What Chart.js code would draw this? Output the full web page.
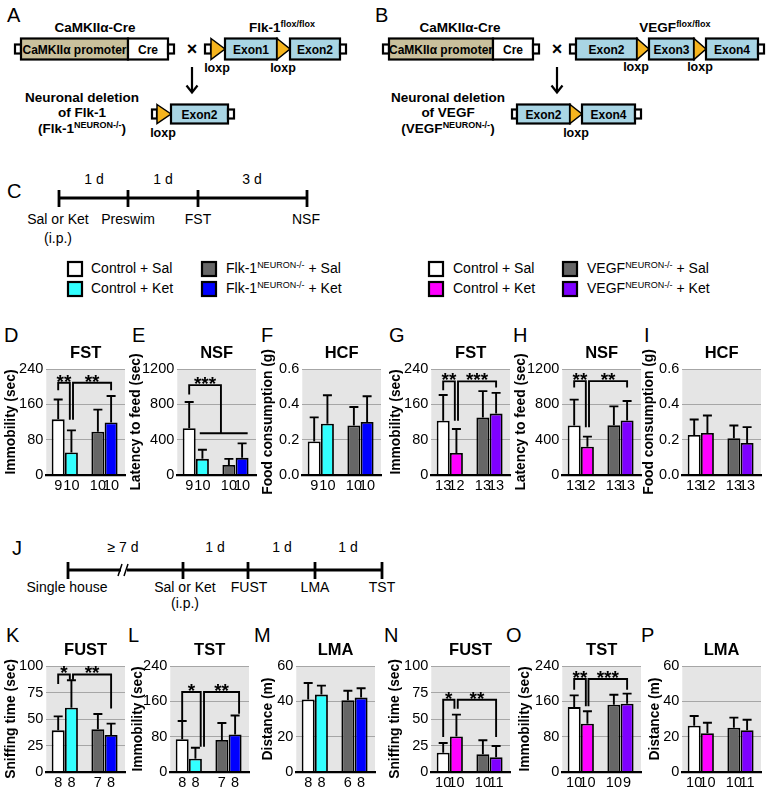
<!DOCTYPE html>
<html><head><meta charset="utf-8">
<script src="https://cdn.jsdelivr.net/npm/chart.js@4.4.1/dist/chart.umd.min.js"></script>
<style>
html,body{margin:0;padding:0;background:#fff;width:769px;height:792px;overflow:hidden;position:relative}
canvas{position:absolute}
svg{position:absolute;left:0;top:0}
svg text{font-family:"Liberation Sans",Arial,Helvetica,sans-serif;fill:#000}
.lt{font-size:20px}
.h{font-size:13.5px;font-weight:bold}
.bx{font-size:12px;font-weight:bold}
.lx{font-size:12.5px;font-weight:bold}
.t{font-size:14px}
.k{stroke:#000;stroke-width:2.2}
.tri{fill:#f5b41e;stroke:#000;stroke-width:1.5;stroke-linejoin:miter}
</style></head><body>
<svg width="769" height="792" xmlns="http://www.w3.org/2000/svg">
<!-- Panel A -->
<text x="7" y="21.5" class="lt">A</text>
<text x="95" y="32" class="h" text-anchor="middle">CaMKIIα-Cre</text>
<rect x="15" y="44.5" width="6" height="9" fill="#fff" class="k"/>
<rect x="21" y="38.5" width="107" height="21" fill="#c9c09c" class="k"/>
<text x="74.5" y="53.5" class="bx" text-anchor="middle">CaMKIIα promoter</text>
<rect x="128" y="38.5" width="40" height="21" fill="#fff" class="k"/>
<text x="148" y="53.5" class="bx" text-anchor="middle">Cre</text>
<rect x="168" y="44.5" width="6" height="9" fill="#fff" class="k"/>
<text x="192" y="55" class="h" text-anchor="middle" style="font-size:18px">×</text>
<text x="282" y="32" class="h" text-anchor="middle">Flk-1<tspan style="font-size:9px" dy="-5">flox/flox</tspan></text>
<rect x="205" y="44.5" width="6" height="9" fill="#fff" class="k"/>
<polygon points="211,38.5 225,49 211,59.5" class="tri"/>
<rect x="225" y="38.5" width="52" height="21" fill="#a9d5e4" class="k"/>
<text x="251" y="53.5" class="bx" text-anchor="middle">Exon1</text>
<polygon points="277,38.5 290,49 277,59.5" class="tri"/>
<rect x="290" y="38.5" width="50" height="21" fill="#a9d5e4" class="k"/>
<text x="315" y="53.5" class="bx" text-anchor="middle">Exon2</text>
<rect x="340" y="44.5" width="6" height="9" fill="#fff" class="k"/>
<text x="217" y="72" class="lx" text-anchor="middle">loxp</text>
<text x="283" y="72" class="lx" text-anchor="middle">loxp</text>
<line x1="192" y1="67" x2="192" y2="92" class="k"/>
<path d="M186.5,85.5 L192,92.5 L197.5,85.5" fill="none" class="k"/>
<text x="82" y="101.5" class="h" text-anchor="middle">Neuronal deletion</text>
<text x="82" y="117" class="h" text-anchor="middle">of Flk-1</text>
<text x="82" y="133" class="h" text-anchor="middle">(Flk-1<tspan style="font-size:9px" dy="-5">NEURON-/-</tspan><tspan dy="5">)</tspan></text>
<rect x="152" y="109.5" width="5" height="9" fill="#fff" class="k"/>
<polygon points="157,104.5 171,114 157,123.5" class="tri"/>
<rect x="171" y="104.5" width="57" height="19" fill="#a9d5e4" class="k"/>
<text x="199.5" y="118.5" class="bx" text-anchor="middle">Exon2</text>
<rect x="228" y="109.5" width="6" height="9" fill="#fff" class="k"/>
<text x="163" y="137" class="lx" text-anchor="middle">loxp</text>

<!-- Panel B -->
<text x="375" y="21.5" class="lt">B</text>
<text x="460" y="32" class="h" text-anchor="middle">CaMKIIα-Cre</text>
<rect x="383" y="44.5" width="6" height="9" fill="#fff" class="k"/>
<rect x="389" y="38.5" width="104" height="21" fill="#c9c09c" class="k"/>
<text x="441" y="53.5" class="bx" text-anchor="middle">CaMKIIα promoter</text>
<rect x="493" y="38.5" width="40" height="21" fill="#fff" class="k"/>
<text x="513" y="53.5" class="bx" text-anchor="middle">Cre</text>
<rect x="533" y="44.5" width="6" height="9" fill="#fff" class="k"/>
<text x="557" y="55" class="h" text-anchor="middle" style="font-size:18px">×</text>
<text x="675" y="32" class="h" text-anchor="middle">VEGF<tspan style="font-size:9px" dy="-5">flox/flox</tspan></text>
<rect x="570" y="44.5" width="6" height="9" fill="#fff" class="k"/>
<rect x="576" y="38.5" width="61" height="21" fill="#a9d5e4" class="k"/>
<text x="606.5" y="53.5" class="bx" text-anchor="middle">Exon2</text>
<polygon points="637,38.5 649,49 637,59.5" class="tri"/>
<rect x="649" y="38.5" width="45" height="21" fill="#a9d5e4" class="k"/>
<text x="671.5" y="53.5" class="bx" text-anchor="middle">Exon3</text>
<polygon points="694,38.5 706,49 694,59.5" class="tri"/>
<rect x="706" y="38.5" width="52" height="21" fill="#a9d5e4" class="k"/>
<text x="732" y="53.5" class="bx" text-anchor="middle">Exon4</text>
<rect x="758" y="44.5" width="6" height="9" fill="#fff" class="k"/>
<text x="636" y="71" class="lx" text-anchor="middle">loxp</text>
<text x="700" y="71" class="lx" text-anchor="middle">loxp</text>
<line x1="557" y1="67" x2="557" y2="92" class="k"/>
<path d="M551.5,85.5 L557,92.5 L562.5,85.5" fill="none" class="k"/>
<text x="448" y="101.5" class="h" text-anchor="middle">Neuronal deletion</text>
<text x="448" y="117" class="h" text-anchor="middle">of VEGF</text>
<text x="448" y="133" class="h" text-anchor="middle">(VEGF<tspan style="font-size:9px" dy="-5">NEURON-/-</tspan><tspan dy="5">)</tspan></text>
<rect x="512" y="109.5" width="5" height="9" fill="#fff" class="k"/>
<rect x="517" y="104.5" width="53" height="19" fill="#a9d5e4" class="k"/>
<text x="543.5" y="118.5" class="bx" text-anchor="middle">Exon2</text>
<polygon points="570,104.5 582,114 570,123.5" class="tri"/>
<rect x="582" y="104.5" width="53" height="19" fill="#a9d5e4" class="k"/>
<text x="608.5" y="118.5" class="bx" text-anchor="middle">Exon4</text>
<rect x="635" y="109.5" width="6" height="9" fill="#fff" class="k"/>
<text x="576" y="137" class="lx" text-anchor="middle">loxp</text>

<!-- Panel C timeline -->
<text x="7" y="198" class="lt">C</text>
<line x1="59" y1="198" x2="307" y2="198" stroke="#000" stroke-width="2.8"/>
<line x1="59" y1="190" x2="59" y2="207" stroke="#000" stroke-width="2.8"/>
<line x1="128" y1="190" x2="128" y2="207" stroke="#000" stroke-width="2.8"/>
<line x1="198" y1="190" x2="198" y2="207" stroke="#000" stroke-width="2.8"/>
<line x1="307" y1="190" x2="307" y2="207" stroke="#000" stroke-width="2.8"/>
<text x="94" y="184" class="t" text-anchor="middle">1 d</text>
<text x="163" y="184" class="t" text-anchor="middle">1 d</text>
<text x="252" y="184" class="t" text-anchor="middle">3 d</text>
<text x="58" y="224" class="t" text-anchor="middle">Sal or Ket</text>
<text x="58" y="243" class="t" text-anchor="middle">(i.p.)</text>
<text x="128" y="224" class="t" text-anchor="middle">Preswim</text>
<text x="198" y="224" class="t" text-anchor="middle">FST</text>
<text x="306" y="224" class="t" text-anchor="middle">NSF</text>

<!-- Legends -->
<rect x="68" y="262" width="14" height="14" fill="#ffffff" class="k"/>
<rect x="68" y="282" width="14" height="14" fill="#33ffff" class="k"/>
<text x="91" y="272.5" class="t">Control + Sal</text>
<text x="91" y="292.5" class="t">Control + Ket</text>
<rect x="202" y="262" width="14" height="14" fill="#666666" class="k"/>
<rect x="202" y="282" width="14" height="14" fill="#0000ff" class="k"/>
<text x="226" y="272.5" class="t">Flk-1<tspan style="font-size:9px" dy="-5">NEURON-/-</tspan><tspan dy="5"> + Sal</tspan></text>
<text x="226" y="292.5" class="t">Flk-1<tspan style="font-size:9px" dy="-5">NEURON-/-</tspan><tspan dy="5"> + Ket</tspan></text>
<rect x="429" y="262" width="14" height="14" fill="#ffffff" class="k"/>
<rect x="429" y="282" width="14" height="14" fill="#ff00ff" class="k"/>
<text x="453" y="272.5" class="t">Control + Sal</text>
<text x="453" y="292.5" class="t">Control + Ket</text>
<rect x="563" y="262" width="14" height="14" fill="#666666" class="k"/>
<rect x="563" y="282" width="14" height="14" fill="#7f00ff" class="k"/>
<text x="587" y="272.5" class="t">VEGF<tspan style="font-size:9px" dy="-5">NEURON-/-</tspan><tspan dy="5"> + Sal</tspan></text>
<text x="587" y="292.5" class="t">VEGF<tspan style="font-size:9px" dy="-5">NEURON-/-</tspan><tspan dy="5"> + Ket</tspan></text>

<!-- Panel letters row 1 -->
<text x="4" y="342" class="lt">D</text>
<text x="132" y="342" class="lt">E</text>
<text x="261" y="342" class="lt">F</text>
<text x="389" y="342" class="lt">G</text>
<text x="513" y="342" class="lt">H</text>
<text x="644" y="342" class="lt">I</text>

<!-- Panel J timeline -->
<text x="12" y="555" class="lt">J</text>
<line x1="68" y1="570" x2="121" y2="570" stroke="#000" stroke-width="2.8"/>
<line x1="127" y1="570" x2="382" y2="570" stroke="#000" stroke-width="2.8"/>
<line x1="118" y1="576" x2="122" y2="564" stroke="#000" stroke-width="1.5"/>
<line x1="124" y1="576" x2="128" y2="564" stroke="#000" stroke-width="1.5"/>
<line x1="68" y1="562" x2="68" y2="579" stroke="#000" stroke-width="2.8"/>
<line x1="183" y1="562" x2="183" y2="579" stroke="#000" stroke-width="2.8"/>
<line x1="248" y1="562" x2="248" y2="579" stroke="#000" stroke-width="2.8"/>
<line x1="315" y1="562" x2="315" y2="579" stroke="#000" stroke-width="2.8"/>
<line x1="382" y1="562" x2="382" y2="579" stroke="#000" stroke-width="2.8"/>
<text x="123" y="552" class="t" text-anchor="middle">≥ 7 d</text>
<text x="215" y="552" class="t" text-anchor="middle">1 d</text>
<text x="282" y="552" class="t" text-anchor="middle">1 d</text>
<text x="348" y="552" class="t" text-anchor="middle">1 d</text>
<text x="67" y="592" class="t" text-anchor="middle">Single house</text>
<text x="185" y="592" class="t" text-anchor="middle">Sal or Ket</text>
<text x="185" y="608" class="t" text-anchor="middle">(i.p.)</text>
<text x="249" y="592" class="t" text-anchor="middle">FUST</text>
<text x="315" y="592" class="t" text-anchor="middle">LMA</text>
<text x="382" y="592" class="t" text-anchor="middle">TST</text>

<!-- Panel letters row 2 -->
<text x="6" y="642" class="lt">K</text>
<text x="128" y="642" class="lt">L</text>
<text x="254" y="642" class="lt">M</text>
<text x="384" y="642" class="lt">N</text>
<text x="506" y="642" class="lt">O</text>
<text x="641" y="642" class="lt">P</text>
</svg>

<script>
// ---------- DATA ----------
const groupsFlk = ['Control + Sal', 'Control + Ket', 'Flk-1 NEURON-/- + Sal', 'Flk-1 NEURON-/- + Ket'];
const groupsVegf = ['Control + Sal', 'Control + Ket', 'VEGF NEURON-/- + Sal', 'VEGF NEURON-/- + Ket'];
const colorsFlk = ['#ffffff', '#33ffff', '#666666', '#0000ff'];
const colorsVegf = ['#ffffff', '#ff00ff', '#666666', '#7f00ff'];
const barSlots = [0, 1, 3, 4];

// D: FST (Flk-1)
const fstFlkMean = [126, 51, 98, 119];
const fstFlkErr = [45, 50, 50, 60];
const fstFlkN = ['9', '10', '10', '10'];
const fstFlkSig = [[0, 0.88, 209, 192, 125, '**'], [1.12, 4, 209, 125, 192, '**']];
// E: NSF (Flk-1)
const nsfFlkMean = [530, 183, 114, 194];
const nsfFlkErr = [297, 103, 69, 164];
const nsfFlkN = ['9', '10', '10', '10'];
const nsfFlkSig = [[0, 2.4, 1017, 910, 472, '***'], [0.8, 4.42, 472, 472, 472, '']];
// F: HCF (Flk-1)
const hcfFlkMean = [0.19, 0.29, 0.28, 0.30];
const hcfFlkErr = [0.136, 0.161, 0.105, 0.146];
const hcfFlkN = ['9', '10', '10', '10'];
// G: FST (VEGF)
const fstVegfMean = [123, 50, 130, 139];
const fstVegfErr = [58, 54, 60, 47];
const fstVegfN = ['13', '12', '13', '13'];
const fstVegfSig = [[0, 0.88, 212, 192, 123, '**'], [1.12, 4, 212, 123, 198, '***']];
// H: NSF (VEGF)
const nsfVegfMean = [560, 320, 564, 617];
const nsfVegfErr = [293, 114, 213, 221];
const nsfVegfN = ['13', '12', '13', '13'];
const nsfVegfSig = [[0, 0.88, 1063, 990, 541, '**'], [1.12, 4, 1063, 541, 990, '**']];
// I: HCF (VEGF)
const hcfVegfMean = [0.227, 0.238, 0.208, 0.181];
const hcfVegfErr = [0.087, 0.099, 0.072, 0.090];
const hcfVegfN = ['13', '12', '13', '13'];
// K: FUST (Flk-1)
const fustFlkMean = [39.3, 60.7, 40.3, 34.9];
const fustFlkErr = [13.2, 25.8, 14.4, 10.7];
const fustFlkN = ['8', '8', '7', '8'];
const fustFlkSig = [[0, 0.88, 92, 83, 87, '*'], [1.12, 4, 92, 87, 60, '**']];
// L: TST (Flk-1)
const tstFlkMean = [74, 30, 72.5, 85];
const tstFlkErr = [41.5, 25, 38.5, 43];
const tstFlkN = ['8', '8', '7', '8'];
const tstFlkSig = [[0, 1.4, 181, 118, 57, '*'], [1.65, 4.3, 181, 57, 132, '**']];
// M: LMA (Flk-1)
const lmaFlkMean = [41.1, 43.8, 40.6, 42.1];
const lmaFlkErr = [9.3, 5.1, 5.4, 5.3];
const lmaFlkN = ['8', '8', '6', '8'];
// N: FUST (VEGF)
const fustVegfMean = [18.2, 33.6, 16.7, 13.8];
const fustVegfErr = [9.2, 20.5, 13.2, 10.7];
const fustVegfN = ['10', '10', '10', '11'];
const fustVegfSig = [[0, 0.85, 68.2, 33, 59.7, '*'], [1.1, 4, 68.2, 59.7, 33, '**']];
// O: TST (VEGF)
const tstVegfMean = [147, 109.4, 152.5, 154.7];
const tstVegfErr = [26.6, 28, 22.5, 22.7];
const tstVegfN = ['10', '10', '10', '9'];
const tstVegfSig = [[0, 0.88, 210.6, 186.4, 148.7, '**'], [1.08, 4, 210.6, 148.7, 186.4, '***']];
// P: LMA (VEGF)
const lmaVegfMean = [26.2, 21.9, 25.1, 23.6];
const lmaVegfErr = [5.5, 6.0, 5.7, 6.0];
const lmaVegfN = ['10', '10', '10', '11'];

// ---------- LAYOUT ----------
const FF = '"Liberation Sans", Arial, Helvetica, sans-serif';
const panels = [
  {title:'FST', yTitle:'Immobility (sec)', yMax:240, step:80, dec:0, mean:fstFlkMean, err:fstFlkErr, n:fstFlkN, colors:colorsFlk, sig:fstFlkSig, gx:46.5, gap:35, row:0},
  {title:'NSF', yTitle:'Latency to feed (sec)', yMax:1200, step:400, dec:0, mean:nsfFlkMean, err:nsfFlkErr, n:nsfFlkN, colors:colorsFlk, sig:nsfFlkSig, gx:177.5, gap:41, row:0},
  {title:'HCF', yTitle:'Food consumption (g)', yMax:0.6, step:0.2, dec:1, mean:hcfFlkMean, err:hcfFlkErr, n:hcfFlkN, colors:colorsFlk, sig:[], gx:302, gap:34, row:0},
  {title:'FST', yTitle:'Immobility (sec)', yMax:240, step:80, dec:0, mean:fstVegfMean, err:fstVegfErr, n:fstVegfN, colors:colorsVegf, sig:fstVegfSig, gx:431, gap:35, row:0},
  {title:'NSF', yTitle:'Latency to feed (sec)', yMax:1200, step:400, dec:0, mean:nsfVegfMean, err:nsfVegfErr, n:nsfVegfN, colors:colorsVegf, sig:nsfVegfSig, gx:562, gap:41, row:0},
  {title:'HCF', yTitle:'Food consumption (g)', yMax:0.6, step:0.2, dec:1, mean:hcfVegfMean, err:hcfVegfErr, n:hcfVegfN, colors:colorsVegf, sig:[], gx:682, gap:33, row:0},
  {title:'FUST', yTitle:'Sniffing time (sec)', yMax:100, step:25, dec:0, mean:fustFlkMean, err:fustFlkErr, n:fustFlkN, colors:colorsFlk, sig:fustFlkSig, gx:46.5, gap:35, row:1},
  {title:'TST', yTitle:'Immobility (sec)', yMax:240, step:80, dec:0, mean:tstFlkMean, err:tstFlkErr, n:tstFlkN, colors:colorsFlk, sig:tstFlkSig, gx:170, gap:32, row:1},
  {title:'LMA', yTitle:'Distance (m)', yMax:60, step:20, dec:0, mean:lmaFlkMean, err:lmaFlkErr, n:lmaFlkN, colors:colorsFlk, sig:[], gx:296.5, gap:28, row:1},
  {title:'FUST', yTitle:'Sniffing time (sec)', yMax:100, step:25, dec:0, mean:fustVegfMean, err:fustVegfErr, n:fustVegfN, colors:colorsVegf, sig:fustVegfSig, gx:431, gap:36, row:1},
  {title:'TST', yTitle:'Immobility (sec)', yMax:240, step:80, dec:0, mean:tstVegfMean, err:tstVegfErr, n:tstVegfN, colors:colorsVegf, sig:tstVegfSig, gx:562, gap:37, row:1},
  {title:'LMA', yTitle:'Distance (m)', yMax:60, step:20, dec:0, mean:lmaVegfMean, err:lmaVegfErr, n:lmaVegfN, colors:colorsVegf, sig:[], gx:682, gap:27, row:1}
];
const X_MIN = -0.9, X_MAX = 5.05, UNIT_PX = 13.2;
const PLOT_W = (X_MAX - X_MIN) * UNIT_PX;
const TOP_PAD = 34, XAX_H = 24, CANVAS_H = 164;
const rowTop = [335, 632];
const TICK_FONT = 14.5, YT_FONT = 13.8;

panels.forEach(p => {
  const yW = p.gap + YT_FONT * 0.6;
  const cv = document.createElement('canvas');
  const W = Math.round(yW + PLOT_W + 4);
  cv.width = W; cv.height = CANVAS_H;
  cv.style.width = W + 'px'; cv.style.height = CANVAS_H + 'px';
  cv.style.left = (p.gx - yW) + 'px';
  cv.style.top = rowTop[p.row] + 'px';
  document.body.appendChild(cv);

  const decor = {
    id: 'decor',
    beforeDraw(chart) {
      const {ctx, chartArea: a} = chart;
      ctx.save(); ctx.fillStyle = '#e5e5e5';
      ctx.fillRect(a.left, a.top, a.right - a.left, a.bottom - a.top);
      ctx.restore();
    },
    afterDatasetsDraw(chart) {
      const {ctx, chartArea: a} = chart;
      const xs = chart.scales.x, ys = chart.scales.y;
      ctx.save();
      ctx.strokeStyle = '#000'; ctx.fillStyle = '#000';
      ctx.lineWidth = 1.9; ctx.lineCap = 'butt';
      const meta = chart.getDatasetMeta(0);
      meta.data.forEach((el, i) => {
        const x = el.x, y0 = el.y, y1 = ys.getPixelForValue(p.mean[i] + p.err[i]);
        ctx.beginPath();
        ctx.moveTo(x, y0); ctx.lineTo(x, y1);
        ctx.moveTo(x - 4.5, y1); ctx.lineTo(x + 4.5, y1);
        ctx.stroke();
      });
      ctx.lineWidth = 1.9;
      p.sig.forEach(s => {
        const [x1, x2, y, y1, y2, txt] = s;
        const X1 = xs.getPixelForValue(x1), X2 = xs.getPixelForValue(x2);
        const Y = ys.getPixelForValue(y), Y1 = ys.getPixelForValue(y1), Y2 = ys.getPixelForValue(y2);
        ctx.beginPath();
        ctx.moveTo(X1, Y1); ctx.lineTo(X1, Y); ctx.lineTo(X2, Y); ctx.lineTo(X2, Y2);
        ctx.stroke();
        if (txt) {
          ctx.font = 'bold 19px ' + FF;
          ctx.textAlign = 'center'; ctx.textBaseline = 'alphabetic';
          ctx.fillText(txt, (X1 + X2) / 2, Y + 5);
        }
      });
      ctx.font = 'bold 16.5px ' + FF;
      ctx.textAlign = 'center'; ctx.textBaseline = 'middle';
      ctx.fillText(p.title, (a.left + a.right) / 2, a.top - 16);
      ctx.restore();
    }
  };

  new Chart(cv, {
    type: 'bar',
    data: {
      datasets: [{
        data: p.mean.map((v, i) => ({x: barSlots[i], y: v})),
        backgroundColor: p.colors,
        borderColor: '#000',
        borderWidth: 1.8,
        borderSkipped: 'bottom',
        barPercentage: 0.98,
        categoryPercentage: 1
      }]
    },
    options: {
      responsive: false, animation: false, devicePixelRatio: 1,
      layout: {padding: {top: TOP_PAD, left: 0, right: 4, bottom: 0}},
      plugins: {legend: {display: false}, tooltip: {enabled: false}, title: {display: false}},
      scales: {
        x: {
          type: 'linear', min: X_MIN, max: X_MAX, offset: false,
          afterBuildTicks: s => { s.ticks = barSlots.map(v => ({value: v})); },
          afterFit: s => { s.height = XAX_H; },
          ticks: {autoSkip: false, maxRotation: 0, minRotation: 0, padding: 2, color: '#000',
                  font: {size: TICK_FONT, family: FF}, callback: (v, i) => p.n[i]},
          grid: {display: false, drawTicks: false},
          border: {display: true, color: '#000', width: 2.2, z: 1}
        },
        y: {
          min: 0, max: p.yMax,
          afterFit: s => { s.width = yW; },
          ticks: {stepSize: p.step, padding: 3, color: '#000', font: {size: TICK_FONT, family: FF},
                  callback: v => Number(v).toFixed(p.dec)},
          grid: {color: '#a6a6a6', lineWidth: 1, drawTicks: false},
          border: {display: false},
          title: {display: true, text: p.yTitle, color: '#000', padding: {top: 0, bottom: 0},
                  font: {size: YT_FONT, weight: 'bold', family: FF}}
        }
      }
    },
    plugins: [decor]
  });
});
</script>
</body></html>
